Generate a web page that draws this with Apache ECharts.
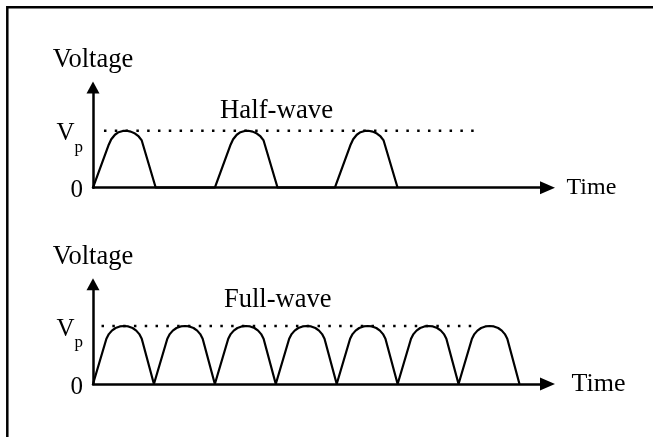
<!DOCTYPE html>
<html><head><meta charset="utf-8">
<script src="https://cdn.jsdelivr.net/npm/echarts@6/dist/echarts.min.js"></script>
<style>html,body{margin:0;padding:0;background:#fff}#c{width:653px;height:437px}</style>
</head><body><div id="c"></div>
<script>
// Hump shapes: position within one hump (in half-periods) and fraction of Vp
const halfHumpU = [0, 0.26, 0.30, 0.36, 0.42, 0.49, 0.55, 0.62, 0.69, 0.75, 0.80, 1.03];
const halfHumpV = [0, 0.76, 0.85, 0.93, 0.975, 0.997, 1.0, 0.985, 0.95, 0.90, 0.83, 0];
const fullHumpU = [0, 0.22, 0.26, 0.31, 0.37, 0.44, 0.51, 0.58, 0.65, 0.71, 0.76, 0.80, 1.0];
const fullHumpV = [0, 0.78, 0.86, 0.92, 0.965, 0.992, 1.0, 0.992, 0.965, 0.92, 0.86, 0.78, 0];
// Where each hump starts on the time axis (half-periods)
const halfWaveStarts = [0, 2, 3.97];
const fullWaveStarts = [0, 1, 2, 3, 4, 5, 6];
// Vp reference (dotted) line extent on the time axis
const vpLineTop = [0.18, 6.32];
const vpLineBottom = [0.14, 6.28];
const vpLevel = 1;
// Tick labels
const yTickValues = [0, 1];
const yTickLabels = ['0', '{V|V}{p|p}'];
const panelTitles = ['Half-wave', 'Full-wave'];
const yName = 'Voltage';
const xName = 'Time';

function buildHumps(starts, U, V) {
  const d = [];
  starts.forEach(function (s) {
    U.forEach(function (u, i) { d.push([s + u, V[i]]); });
  });
  return d;
}

const FONT = 'Liberation Serif';
const black = '#000';

function xAxisFor(grid, gap) {
  return {
    gridIndex: grid, type: 'value', min: 0, max: 7.46,
    axisLine: { show: true, symbol: ['none', 'triangle'], symbolSize: [13, 15], lineStyle: { color: black, width: 2.5 } },
    axisTick: { show: false }, axisLabel: { show: false }, splitLine: { show: false },
    name: xName, nameLocation: 'end', nameGap: gap,
    nameTextStyle: { fontFamily: FONT, fontSize: grid === 0 ? 24 : 26, color: black, padding: [0, 0, 6, 0] }
  };
}
function yAxisFor(grid, max) {
  return {
    gridIndex: grid, type: 'value', min: 0, max: max, interval: 1,
    axisLine: { show: true, symbol: ['none', 'triangle'], symbolSize: [13, 12], lineStyle: { color: black, width: 2.5 } },
    axisTick: { show: false }, splitLine: { show: false },
    axisLabel: {
      margin: 10, color: black, fontFamily: FONT, fontSize: 25, padding: [6, 0, 0, 0],
      formatter: function (v) { const i = yTickValues.indexOf(v); return i < 0 ? '' : yTickLabels[i]; },
      rich: {
        V: { fontFamily: FONT, fontSize: 25, lineHeight: 25, verticalAlign: 'middle', color: black },
        p: { fontFamily: FONT, fontSize: 17, lineHeight: 17, padding: [27, 0, 0, 0], color: black }
      }
    },
    name: yName, nameLocation: 'end', nameGap: 14,
    nameTextStyle: { fontFamily: FONT, fontSize: 26.5, color: black, align: 'center' }
  };
}

const chart = echarts.init(document.getElementById('c'), null, { renderer: 'canvas' });
chart.setOption({
  animation: false,
  backgroundColor: '#fff',
  graphic: [{
    type: 'rect', z: -1, silent: true,
    shape: { x: 7.3, y: 7.3, width: 800, height: 600 },
    style: { fill: 'none', stroke: black, lineWidth: 2.5 }
  }],
  title: [
    { text: panelTitles[0], left: 220, top: 98, padding: 0,
      textStyle: { fontFamily: FONT, fontSize: 26.8, fontWeight: 'normal', color: black, lineHeight: 26 } },
    { text: panelTitles[1], left: 224, top: 287.5, padding: 0,
      textStyle: { fontFamily: FONT, fontSize: 26.5, fontWeight: 'normal', color: black, lineHeight: 26 } }
  ],
  grid: [
    { left: 93, right: 105.5, top: 87.5, height: 100.2 },
    { left: 93, right: 105.5, top: 284.2, height: 99.8 }
  ],
  xAxis: [xAxisFor(0, 19), xAxisFor(1, 24)],
  yAxis: [yAxisFor(0, 1.76), yAxisFor(1, 1.72)],
  series: [
    { type: 'line', xAxisIndex: 0, yAxisIndex: 0, showSymbol: false, symbol: 'none',
      data: buildHumps(halfWaveStarts, halfHumpU, halfHumpV),
      lineStyle: { color: black, width: 2.2, join: 'round' } },
    { type: 'line', xAxisIndex: 0, yAxisIndex: 0, showSymbol: false, symbol: 'none',
      data: [[vpLineTop[0], vpLevel], [vpLineTop[1], vpLevel]],
      lineStyle: { color: black, width: 2.5, type: [2.5, 8.3], cap: 'butt' } },
    { type: 'line', xAxisIndex: 1, yAxisIndex: 1, showSymbol: false, symbol: 'none',
      data: buildHumps(fullWaveStarts, fullHumpU, fullHumpV),
      lineStyle: { color: black, width: 2.2, join: 'round' } },
    { type: 'line', xAxisIndex: 1, yAxisIndex: 1, showSymbol: false, symbol: 'none',
      data: [[vpLineBottom[0], vpLevel], [vpLineBottom[1], vpLevel]],
      lineStyle: { color: black, width: 2.5, type: [2.5, 8.3], cap: 'butt' } }
  ]
});
</script></body></html>
